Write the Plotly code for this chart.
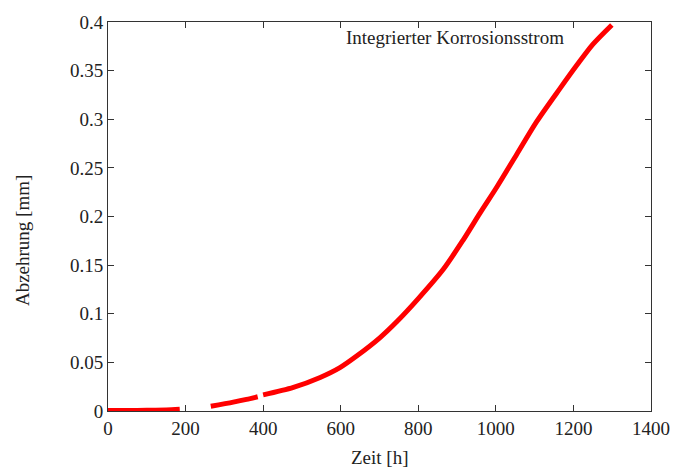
import plotly.graph_objects as go

# Time [h] (None marks gaps in the measured curve)
zeit = [0, 50, 100, 150, 185, None,
        265, 323, 357, 386, None,
        400, 478, 547, 598, 641, 700, 745, 800, 865, 916, 959, 1003,
        1054, 1106, 1166, 1209, 1250, 1299]
# Abzehrung [mm]
abzehrung = [0.0004, 0.0005, 0.0007, 0.001, 0.0017, None,
             0.0048, 0.0091, 0.0119, 0.0146, None,
             0.0166, 0.0243, 0.0345, 0.0446, 0.0565, 0.075, 0.092, 0.1156, 0.146,
             0.176, 0.2035, 0.2306, 0.264, 0.298, 0.332, 0.3557, 0.377, 0.397]

x_ticks = [0, 200, 400, 600, 800, 1000, 1200, 1400]
y_ticks = [0, 0.05, 0.1, 0.15, 0.2, 0.25, 0.3, 0.35, 0.4]
y_tick_text = ["0", "0.05", "0.1", "0.15", "0.2", "0.25", "0.3", "0.35", "0.4"]

FONT = "Liberation Serif"
FS = 19

fig = go.Figure()
fig.add_trace(go.Scatter(
    x=zeit, y=abzehrung, mode="lines",
    line=dict(color="#ff0000", width=5, shape="spline", smoothing=0.8),
    connectgaps=False, showlegend=False,
))

axis_common = dict(
    showgrid=False, zeroline=False,
    showline=True, linecolor="#333333", linewidth=1, mirror="allticks",
    ticks="inside", ticklen=6, tickcolor="#333333", tickwidth=1,
    tickfont=dict(family=FONT, size=FS, color="#222222"),
)

fig.update_layout(
    width=688, height=470,
    margin=dict(l=108, r=37, t=15, b=59),
    paper_bgcolor="white", plot_bgcolor="white",
    font=dict(family=FONT, size=FS, color="#222222"),
    xaxis=dict(range=[0, 1400], tickvals=x_ticks, **axis_common),
    yaxis=dict(range=[0, 0.4], tickvals=y_ticks, ticktext=y_tick_text, **axis_common),
    annotations=[
        dict(text="Integrierter Korrosionsstrom", xref="paper", yref="paper",
             x=(566 - 108) / (651 - 108), y=(411 - 31) / (411 - 15),
             xanchor="right", yanchor="middle", showarrow=False,
             font=dict(family=FONT, size=FS, color="#222222")),
        dict(text="Zeit [h]", xref="paper", yref="paper",
             x=0.5, y=(411 - 458) / (411 - 15),
             xanchor="center", yanchor="middle", showarrow=False,
             font=dict(family=FONT, size=FS, color="#222222")),
        dict(text="Abzehrung [mm]", xref="paper", yref="paper",
             x=(22 - 108) / (651 - 108), y=(411 - 238) / (411 - 15),
             xanchor="center", yanchor="middle", showarrow=False, textangle=-90,
             font=dict(family=FONT, size=FS, color="#222222")),
    ],
)

fig.write_html("out.html")
